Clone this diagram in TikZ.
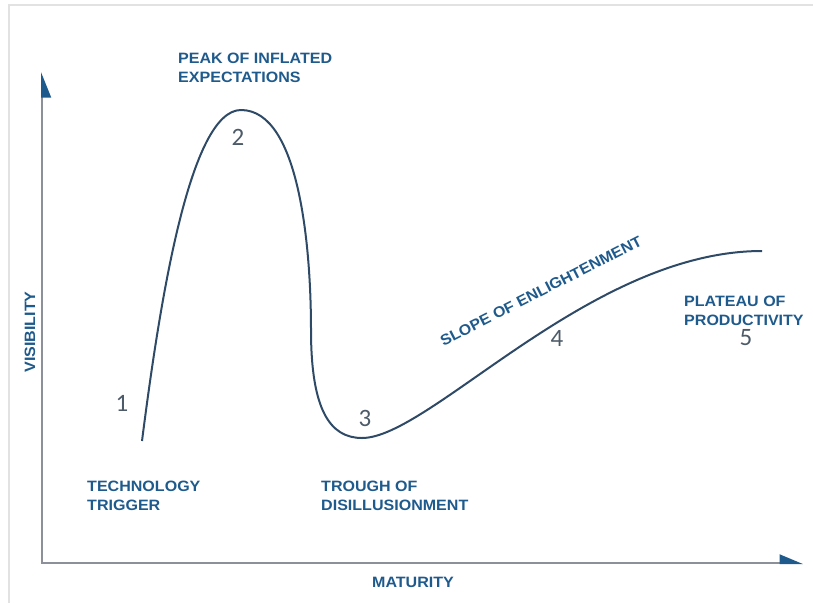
\documentclass[tikz,border=0pt]{standalone}
\usepackage{fontspec}
\setmainfont{Liberation Sans}
\newfontfamily\labelfont[FakeStretch=1.07]{Liberation Sans}
\newfontfamily\numfont{Carlito}
\usetikzlibrary{arrows.meta}
\definecolor{hypeblue}{HTML}{1F5A8C}
\definecolor{curveblue}{HTML}{2E4A66}
\definecolor{axisgray}{HTML}{8C9099}
\definecolor{numgray}{HTML}{4D5B69}
\definecolor{framegray}{HTML}{E2E2E2}
\begin{document}
\begin{tikzpicture}[x=1pt, y=-1pt,
  phase/.style={text=hypeblue, font=\labelfont\fontsize{15}{19}\selectfont\bfseries, align=left, anchor=west, inner sep=0pt},
  num/.style={text=numgray, font=\numfont\fontsize{25}{25}\selectfont, inner sep=0pt},
  axis/.style={axisgray, line width=2pt, line cap=rect},
  hype/.style={curveblue, line width=2pt}]
\useasboundingbox (0,0) rectangle (813,603);
\draw[framegray, line width=1.5pt] (9,603) -- (9,5) -- (813,5);
\coordinate (origin) at (42,563);
\coordinate (ytop) at (42,72);
\coordinate (xend) at (803,563);
\draw[axis, -{Stealth[harpoon, swap, length=23pt, width=18pt, inset=0pt, color=hypeblue]}] (origin) -- (ytop);
\draw[axis, -{Stealth[harpoon, length=21pt, width=17pt, inset=0pt, color=hypeblue]}] (origin) -- (xend);
\coordinate (start) at (142,441);
\coordinate (peak) at (241,110);
\coordinate (fall) at (311,330);
\coordinate (trough) at (362,438);
\coordinate (plateau) at (762,251);
\draw[hype] (start) .. controls (160,300) and (190,110) .. (peak)
  .. controls (300,110) and (311,250) .. (fall)
  .. controls (311,410) and (330,438) .. (trough)
  .. controls (430,438) and (590,251) .. (plateau);
\node[phase] (peaklbl) at (178,68) {PEAK OF INFLATED\\EXPECTATIONS};
\node[phase] (trigger) at (87,496) {TECHNOLOGY\\TRIGGER};
\node[phase] (troughlbl) at (321,496) {TROUGH OF\\DISILLUSIONMENT};
\node[phase] (plateaulbl) at (684,311) {PLATEAU OF\\PRODUCTIVITY};
\node[phase, anchor=center, rotate=27] (slope) at (541,291) {SLOPE OF ENLIGHTENMENT};
\node[phase, anchor=center] (maturity) at (413,582) {MATURITY};
\node[phase, anchor=center, rotate=90] (visibility) at (30,332) {VISIBILITY};
\node[num] (n1) at (122,403) {1};
\node[num] (n2) at (238,137) {2};
\node[num] (n3) at (365,418) {3};
\node[num] (n4) at (557,338) {4};
\node[num] (n5) at (746,338) {5};
\end{tikzpicture}
\end{document}
